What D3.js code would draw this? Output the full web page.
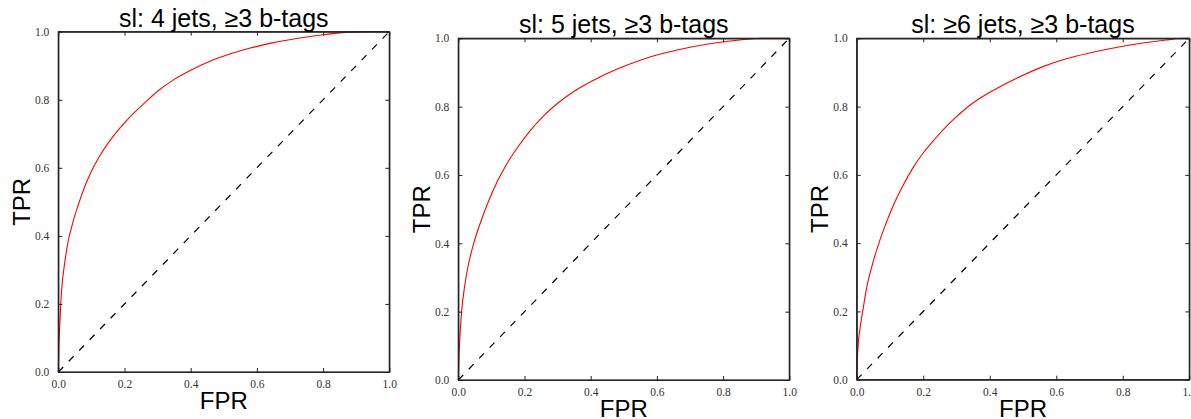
<!DOCTYPE html>
<html>
<head>
<meta charset="utf-8">
<script src="https://cdn.jsdelivr.net/npm/d3@7"></script>
<style>
	body { margin: 0; background: #fff; }
	svg { display: block; }
</style>
</head>
<body>
<svg id="roc" width="1191" height="419"></svg>
<script>
// panel titles
const titles = ["sl: 4 jets, \u22653 b-tags", "sl: 5 jets, \u22653 b-tags", "sl: \u22656 jets, \u22653 b-tags"];

// ROC curves
const fpr4 = [0, 0.002, 0.005, 0.01, 0.02, 0.03, 0.04, 0.05, 0.06, 0.08, 0.1, 0.125, 0.15, 0.176, 0.2, 0.227, 0.26, 0.3, 0.35, 0.4, 0.46, 0.52, 0.58, 0.65, 0.72, 0.8, 0.87, 0.92, 1.0];
const tpr4 = [0, 0.08, 0.15, 0.24, 0.325, 0.385, 0.425, 0.46, 0.49, 0.545, 0.59, 0.635, 0.672, 0.705, 0.732, 0.76, 0.79, 0.825, 0.86, 0.887, 0.914, 0.935, 0.952, 0.968, 0.98, 0.991, 0.998, 1.0, 1.0];

const fpr5 = [0, 0.002, 0.005, 0.01, 0.02, 0.03, 0.045, 0.065, 0.09, 0.12, 0.15, 0.18, 0.215, 0.26, 0.3, 0.35, 0.41, 0.48, 0.55, 0.62, 0.7, 0.78, 0.85, 0.92, 1.0];
const tpr5 = [0, 0.07, 0.13, 0.2, 0.28, 0.335, 0.395, 0.455, 0.52, 0.585, 0.638, 0.682, 0.727, 0.775, 0.81, 0.845, 0.878, 0.91, 0.936, 0.956, 0.974, 0.987, 0.995, 1.0, 1.0];

const fpr6 = [0, 0.002, 0.005, 0.01, 0.018, 0.03, 0.045, 0.065, 0.085, 0.11, 0.14, 0.17, 0.2, 0.235, 0.28, 0.33, 0.38, 0.44, 0.5, 0.56, 0.63, 0.7, 0.78, 0.86, 0.93, 0.98, 1.0];
const tpr6 = [0, 0.06, 0.11, 0.15, 0.2, 0.27, 0.33, 0.395, 0.45, 0.51, 0.57, 0.622, 0.664, 0.705, 0.752, 0.796, 0.83, 0.863, 0.892, 0.917, 0.94, 0.957, 0.973, 0.986, 0.995, 1.0, 1.0];

// random guess line
const diagonal = [0, 1];

const ticks = [0, 0.2, 0.4, 0.6, 0.8, 1.0];
const xLabel = "FPR";
const yLabel = "TPR";

rocChart = {

	init: function(){
		const me = rocChart;

		me.svg = d3.select("#roc");

		// where each sub-figure sits in the picture
		const boxes = [
			{left: 58.3, top: 31.7, width: 331, height: 340.3},
			{left: 458.3, top: 38.3, width: 331, height: 341.7},
			{left: 856.7, top: 38.3, width: 332.6, height: 341.4}
		];
		const curves = [[fpr4, tpr4], [fpr5, tpr5], [fpr6, tpr6]];

		boxes.forEach(function(box, i){
			me.drawPanel(box, titles[i], curves[i][0], curves[i][1]);
		});
	},

	drawPanel: function(box, title, fpr, tpr){
		const me = rocChart;

		const x = d3.scaleLinear().domain([0, 1]).range([0, box.width]);
		const y = d3.scaleLinear().domain([0, 1]).range([box.height, 0]);

		const g = me.svg.append("g")
			.attr("transform", "translate(" + box.left + "," + box.top + ")");

		const line = d3.line()
			.x(function(d){ return x(d[0]); })
			.y(function(d){ return y(d[1]); });

		// dashed diagonal
		g.append("path")
			.datum(diagonal.map(function(v){ return [v, v]; }))
			.attr("d", line)
			.attr("fill", "none")
			.attr("stroke", "#000")
			.attr("stroke-width", 1.2)
			.attr("stroke-dasharray", "7,8");

		// roc curve
		g.append("path")
			.datum(fpr.map(function(v, i){ return [v, tpr[i]]; }))
			.attr("d", line.curve(d3.curveMonotoneX))
			.attr("fill", "none")
			.attr("stroke", "#ff0000")
			.attr("stroke-width", 1.1);

		// axes, ticks point inwards like matplotlib
		const bottom = d3.axisBottom(x).tickValues(ticks).tickFormat(d3.format(".1f")).tickSizeInner(-4).tickSizeOuter(0).tickPadding(8);
		const left = d3.axisLeft(y).tickValues(ticks).tickFormat(d3.format(".1f")).tickSizeInner(-4).tickSizeOuter(0).tickPadding(9);
		const top = d3.axisTop(x).tickValues(ticks).tickFormat("").tickSizeInner(-4).tickSizeOuter(0);
		const right = d3.axisRight(y).tickValues(ticks).tickFormat("").tickSizeInner(-4).tickSizeOuter(0);

		g.append("g").attr("transform", "translate(0," + box.height + ")").call(bottom);
		g.append("g").call(left);
		g.append("g").call(top);
		g.append("g").attr("transform", "translate(" + box.width + ",0)").call(right);

		g.selectAll(".domain").attr("stroke", "#222").attr("stroke-width", 1.2);
		g.selectAll(".tick line").attr("stroke", "#222");
		g.selectAll(".tick text")
			.attr("font-family", "'Liberation Serif', serif")
			.attr("font-size", 11.5)
			.attr("fill", "#333");

		// frame
		g.append("rect")
			.attr("width", box.width)
			.attr("height", box.height)
			.attr("fill", "none")
			.attr("stroke", "#222")
			.attr("stroke-width", 1.2);

		g.append("text")
			.attr("x", box.width / 2)
			.attr("y", -5)
			.attr("text-anchor", "middle")
			.attr("font-family", "'Liberation Sans', Arial, sans-serif")
			.attr("font-size", 25)
			.attr("fill", "#000")
			.text(title);

		g.append("text")
			.attr("x", box.width / 2)
			.attr("y", box.height + 37.5)
			.attr("text-anchor", "middle")
			.attr("font-family", "'Liberation Sans', Arial, sans-serif")
			.attr("font-size", 24)
			.attr("fill", "#000")
			.text(xLabel);

		g.append("text")
			.attr("transform", "translate(-28.5," + (box.height / 2) + ") rotate(-90)")
			.attr("text-anchor", "middle")
			.attr("font-family", "'Liberation Sans', Arial, sans-serif")
			.attr("font-size", 24)
			.attr("fill", "#000")
			.text(yLabel);
	}
}

rocChart.init();
</script>
</body>
</html>
